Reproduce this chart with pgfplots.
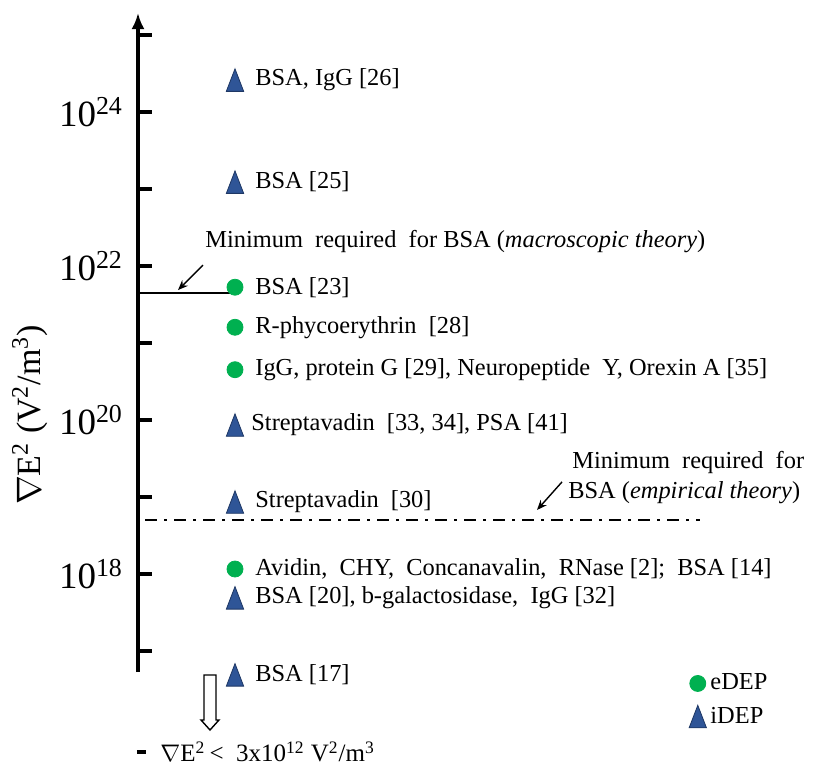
\documentclass[border=0pt]{standalone}
\usepackage{fontspec}
\setmainfont{Liberation Serif}
\usepackage{pgfplots}
\pgfplotsset{compat=1.18}
\usetikzlibrary{arrows.meta}
\definecolor{edep}{RGB}{0,176,80}
\definecolor{idep}{RGB}{47,85,151}
\definecolor{idepdark}{RGB}{30,55,100}
\newcommand\lbl{\fontsize{12.2}{14}\selectfont}
\begin{document}
\begin{tikzpicture}
\begin{axis}[
  scale only axis, width=337.5pt, height=329.5pt,
  xmin=138, xmax=813, ymode=log, ymin=5.33e16, ymax=1.93e25,
  axis x line=none, axis y line=left,
  y axis line style={-{Latex[length=8pt,width=6.5pt]}, line width=1.5pt},
  ytick={1e17,1e18,1e19,1e20,1e21,1e22,1e23,1e24,1e25},
  yticklabels={,10\textsuperscript{18},,10\textsuperscript{20},,10\textsuperscript{22},,10\textsuperscript{24},},
  yminorticks=false,
  tick align=inside, major tick length=7pt,
  tick style={line width=2pt, black},
  yticklabel style={font=\fontsize{18.5}{20}\selectfont, xshift=-4pt},
  ylabel={$\nabla$E\textsuperscript{2} (V\textsuperscript{2}/m\textsuperscript{3})},
  ylabel style={font=\fontsize{17}{20}\selectfont, at={(axis description cs:-0.16,0.39)}, anchor=center},
  clip=false,
  legend style={draw=none, fill=none, font=\lbl, at={(axis description cs:0.807,-0.0425)}, anchor=west, row sep=3pt},
  legend cell align=left,
  legend image code/.code={\draw[#1] plot coordinates {(0pt,0pt)};},
]
\addplot[black, line width=1pt, forget plot] coordinates {(138,4.46e21) (235,4.46e21)};
\addplot[black, line width=1.3pt, dash pattern=on 6pt off 3.5pt on 1.5pt off 3.5pt, forget plot] coordinates {(145,5.0e18) (700,5.0e18)};
\addplot[only marks, mark=*, mark size=4pt, mark options={fill=edep, draw=edep}] coordinates {(235,5.3e21) (235,1.6e21) (235,4.5e20) (235,1.16e18)};
\addlegendentry{eDEP}
\addplot[only marks, mark=triangle*, mark size=5pt, mark options={fill=idep, draw=idepdark, line width=0.4pt, yshift=-1.9pt, yscale=1.5}] coordinates {(235,2.6e24) (235,1.23e23) (235,8.6e19) (235,8.6e18) (235,4.9e17) (235,4.9e16)};
\addlegendentry{iDEP}
\node[anchor=west, inner sep=0, font=\lbl] at (axis cs:255,2.6e24) {BSA, IgG [26]};
\node[anchor=west, inner sep=0, font=\lbl] at (axis cs:255,1.23e23) {BSA [25]};
\node[anchor=west, inner sep=0, font=\lbl] at (axis cs:255,5.3e21) {BSA [23]};
\node[anchor=west, inner sep=0, font=\lbl] at (axis cs:255,1.6e21) {R-phycoerythrin~ [28]};
\node[anchor=west, inner sep=0, font=\lbl] at (axis cs:255,4.5e20) {IgG, protein G [29], Neuropeptide~ Y, Orexin A [35]};
\node[anchor=west, inner sep=0, font=\lbl] at (axis cs:251,8.6e19) {Streptavadin~ [33, 34], PSA [41]};
\node[anchor=west, inner sep=0, font=\lbl] at (axis cs:255,8.6e18) {Streptavadin~ [30]};
\node[anchor=west, inner sep=0, font=\lbl] at (axis cs:255,1.16e18) {Avidin,~ CHY,~ Concanavalin,~ RNase [2];~ BSA [14]};
\node[anchor=west, inner sep=0, font=\lbl] at (axis cs:255,4.9e17) {BSA [20], b-galactosidase,~ IgG [32]};
\node[anchor=west, inner sep=0, font=\lbl] at (axis cs:255,4.9e16) {BSA [17]};
\node[anchor=west, inner sep=0, font=\lbl] at (axis cs:205,2.05e22) {Minimum~ required~ for BSA (\textit{macroscopic theory})};
\draw[-{Stealth[length=5pt,width=4pt]}, line width=0.7pt] (axis cs:203,1.03e22) -- (axis cs:178,4.87e21);
\node[anchor=west, inner sep=0, font=\lbl] at (axis cs:572,2.77e19) {Minimum~ required~ for};
\node[anchor=west, inner sep=0, font=\lbl] at (axis cs:568,1.13e19) {BSA (\textit{empirical theory})};
\draw[-{Stealth[length=5pt,width=4pt]}, line width=0.7pt] (axis cs:562,1.57e19) -- (axis cs:537,6.78e18);
\draw[line width=0.7pt, fill=white] (axis cs:204,4.88e16) -- (axis cs:216,4.88e16) -- (axis cs:216,1.27e16) -- (axis cs:219,1.27e16) -- (axis cs:210,9.42e15) -- (axis cs:201,1.27e16) -- (axis cs:204,1.27e16) -- cycle;
\draw[line width=2pt] (axis cs:137,4.9e15) -- (axis cs:146,4.9e15);
\node[anchor=west, inner sep=0, font=\fontsize{12.5}{14}\selectfont] at (axis cs:160,4.9e15) {$\nabla$E\textsuperscript{2}\,<\ \ 3x10\textsuperscript{12}\ V\textsuperscript{2}/m\textsuperscript{3}};
\coordinate (BL) at (axis cs:0,2.85e15);
\coordinate (TR) at (axis cs:813,2.85e25);
\end{axis}
\pgfresetboundingbox
\path (BL) rectangle (TR);
\end{tikzpicture}
\end{document}
